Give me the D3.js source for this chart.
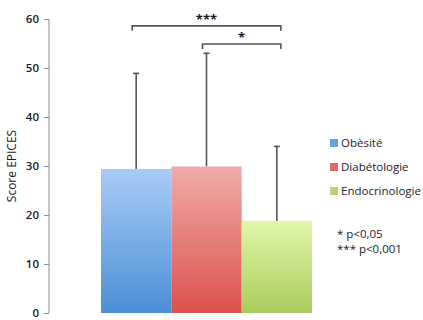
<!DOCTYPE html>
<html>
<head>
<meta charset="utf-8">
<script src="https://cdn.jsdelivr.net/npm/d3@7"></script>
<style>
  body { margin: 0; background: #fff; }
  text { font-family: "Open Sans", "Liberation Sans", sans-serif; fill: #1a1a2a; }
</style>
</head>
<body>
<div id="chart"></div>
<script>
// data
const groups = ["Obèsité", "Diabétologie", "Endocrinologie"];
const means = [29.4, 29.9, 18.8];
const errTops = [48.9, 53, 34];
const topColors = ["#a9cbf6", "#f0aca9", "#e1f8a9"];
const bottomColors = ["#4b8fd6", "#dc5149", "#a9cc5d"];
const yTicks = [0, 10, 20, 30, 40, 50, 60];
const brackets = [
  {from: 0, to: 2, level: 58.6, label: "***"},
  {from: 1, to: 2, level: 54.9, label: "*"}
];
const notes = ["* p<0,05", "*** p<0,001"];

const width = 423, height = 320;
const svg = d3.select("#chart").append("svg").attr("width", width).attr("height", height);

const y = d3.scaleLinear().domain([0, 60]).range([313, 19]);
const x = d3.scaleBand().domain(groups).range([101, 312]).padding(0);

const defs = svg.append("defs");
groups.forEach((g, i) => {
  const grad = defs.append("linearGradient").attr("id", "grad" + i)
    .attr("x1", 0).attr("y1", 0).attr("x2", 0).attr("y2", 1);
  grad.append("stop").attr("offset", "0%").attr("stop-color", topColors[i]);
  grad.append("stop").attr("offset", "100%").attr("stop-color", bottomColors[i]);
});

// y axis
const axis = svg.append("g").attr("transform", "translate(49,0)")
  .call(d3.axisLeft(y).tickValues(yTicks).tickSize(5).tickPadding(5));
axis.selectAll("path, line").attr("stroke", "#8c8c8c");
axis.select(".domain").attr("d", `M0,${y(0)}V${y(60)}`);
axis.selectAll("text").style("font-size", "11.5px").style("font-weight", "600")
  .attr("fill", "#1a1a2a").style("font-family", "'Open Sans', sans-serif");

svg.append("text")
  .attr("transform", `translate(16,${y(30)}) rotate(-90)`)
  .attr("text-anchor", "middle")
  .style("font-size", "12px")
  .text("Score EPICES");

// error bars (behind bars)
const err = svg.append("g");
groups.forEach((g, i) => {
  const cx = x(g) + x.bandwidth() / 2;
  err.append("line").attr("x1", cx).attr("x2", cx)
    .attr("y1", y(means[i])).attr("y2", y(errTops[i]))
    .attr("stroke", "#555").attr("stroke-width", 1.6);
  err.append("line").attr("x1", cx - 3).attr("x2", cx + 3)
    .attr("y1", y(errTops[i])).attr("y2", y(errTops[i]))
    .attr("stroke", "#555").attr("stroke-width", 1.6);
});

svg.selectAll(".bar").data(groups).join("rect")
  .attr("class", "bar")
  .attr("x", d => x(d))
  .attr("width", x.bandwidth())
  .attr("y", (d, i) => y(means[i]))
  .attr("height", (d, i) => y(0) - y(means[i]))
  .attr("fill", (d, i) => `url(#grad${i})`);

// significance brackets
brackets.forEach(b => {
  const x0 = x(groups[b.from]) + x.bandwidth() / 2 - 4;
  const x1 = x(groups[b.to]) + x.bandwidth() / 2 + 4;
  const yy = y(b.level);
  svg.append("path")
    .attr("d", `M${x0},${yy + 5}V${yy}H${x1}V${yy + 5}`)
    .attr("fill", "none").attr("stroke", "#555").attr("stroke-width", 1.6);
  svg.append("text")
    .attr("x", (x0 + x1) / 2).attr("y", yy - 2)
    .attr("text-anchor", "middle")
    .style("font-size", "13px").style("font-weight", "bold")
    .text(b.label);
});

// legend
const legend = svg.append("g").attr("transform", "translate(330,143)");
groups.forEach((g, i) => {
  const row = legend.append("g").attr("transform", `translate(0,${i * 24})`);
  row.append("rect").attr("x", 0).attr("y", -4).attr("width", 8).attr("height", 8)
    .attr("fill", bottomColors[i]).attr("opacity", 0.85);
  row.append("text").attr("x", 11).attr("y", 4).style("font-size", "11.5px").text(g);
});

svg.selectAll(".note").data(notes).join("text")
  .attr("class", "note")
  .attr("x", 337).attr("y", (d, i) => 238 + i * 15)
  .style("font-size", "11.5px")
  .text(d => d);
</script>
</body>
</html>
